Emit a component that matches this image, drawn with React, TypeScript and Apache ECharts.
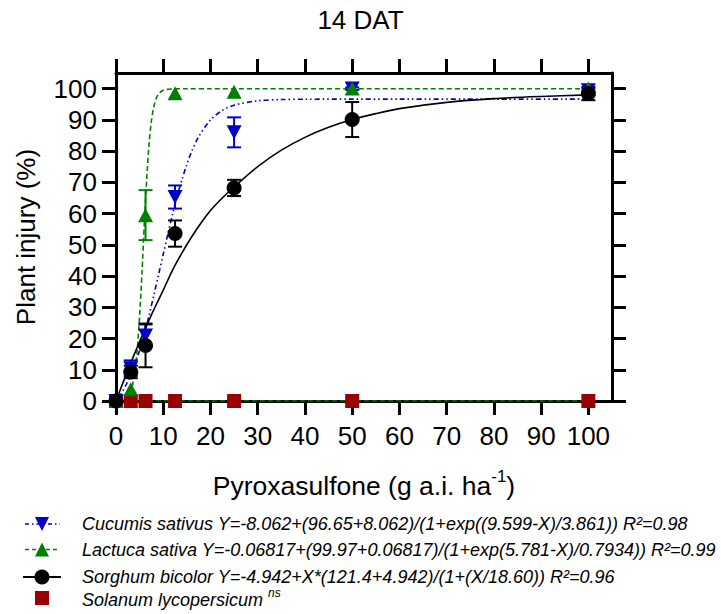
import React, { useEffect, useRef } from "react";
import * as echarts from "echarts";

// Application rates (g a.i. ha-1)
const rates = [0, 3.125, 6.25, 12.5, 25, 50, 100];

// Observed means and standard errors (% injury)
const cucumisMean = [0, 10.5, 21, 65.3, 86, 100, 99.5];
const cucumisErr = [0, 2.5, 3.5, 3.7, 4.8, 0.4, 0.5];
const lactucaMean = [0, 3.8, 59.5, 98.5, 99, 100, 100];
const lactucaErr = [0, 0, 8, 0, 0, 0, 0];
const sorghumMean = [0, 9.3, 17.8, 53.6, 68.2, 90.1, 98.4];
const sorghumErr = [0, 2, 7, 4.2, 2.6, 5.6, 2.1];
const solanumMean = [0, 0, 0, 0, 0, 0, 0];

// Fitted curves
const cucumisFitX = [0, 1, 2, 3, 4, 5, 6, 7, 8, 9, 10, 11, 12, 13, 14, 15, 16, 17.5, 20, 22.5, 25, 30, 35, 40, 50, 60, 80, 100];
const cucumisFitY = [0, 2.1, 4.8, 8, 11.8, 16.3, 21.5, 27.4, 33.8, 40.4, 47, 53.6, 60, 66, 71, 75.8, 79.8, 84.6, 90, 93, 94.7, 96.1, 96.5, 96.6, 96.65, 96.65, 96.65, 96.65];
const lactucaFitX = [0, 1, 2, 3, 3.5, 4, 4.5, 5, 5.5, 6, 6.5, 7, 7.5, 8, 8.5, 9, 10, 11, 12, 15, 20, 30, 50, 100];
const lactucaFitY = [0, 0.2, 0.8, 2.9, 5.2, 9.6, 16.5, 27.2, 41.2, 56.9, 71.2, 82.3, 89.7, 94.2, 96.8, 98.3, 99.5, 99.8, 99.9, 99.97, 99.97, 99.97, 99.97, 99.97];
const sorghumFitX = [0, 1, 2, 3, 4, 5, 6, 7, 8, 9, 10, 12, 14, 16, 18, 20, 22.5, 25, 30, 35, 40, 45, 50, 55, 60, 70, 80, 90, 100];
const sorghumFitY = [0, 4, 7.9, 11.7, 15.4, 19, 22.5, 25.9, 29.2, 32.4, 35.5, 42, 47.5, 52.5, 57, 61, 65, 68.5, 75, 80.3, 84.4, 87.6, 90.1, 92, 93.6, 95.6, 96.8, 97.5, 98];
const solanumFitX = [0, 100];
const solanumFitY = [0, 0];

const xTicks = [0, 10, 20, 30, 40, 50, 60, 70, 80, 90, 100];
const yTicks = [0, 10, 20, 30, 40, 50, 60, 70, 80, 90, 100];

const legendTexts = [
  "Cucumis sativus Y=-8.062+(96.65+8.062)/(1+exp((9.599-X)/3.861)) R²=0.98",
  "Lactuca sativa Y=-0.06817+(99.97+0.06817)/(1+exp(5.781-X)/0.7934)) R²=0.99",
  "Sorghum bicolor Y=-4.942+X*(121.4+4.942)/(1+(X/18.60)) R²=0.96",
  "Solanum lycopersicum ",
];

const BLUE = "#0000c8";
const GREEN = "#008000";
const BLACK = "#000000";
const RED = "#9b0000";
const FONT = "Liberation Sans, Arial, sans-serif";

const zip = (xs: number[], ys: number[]) => xs.map((x, i) => [x, ys[i]]);
const zip3 = (xs: number[], ys: number[], es: number[]) => xs.map((x, i) => [x, ys[i], es[i]]);

function errRender(color: string) {
  return (params: any, api: any) => {
    const x = api.value(0);
    const m = api.value(1);
    const e = api.value(2);
    if (!e) return { type: "group", children: [] };
    const top = api.coord([x, m + e]);
    const bot = api.coord([x, m - e]);
    const hw = 7;
    const style = { stroke: color, lineWidth: 2 };
    return {
      type: "group",
      children: [
        { type: "line", shape: { x1: top[0], y1: top[1], x2: bot[0], y2: bot[1] }, style },
        { type: "line", shape: { x1: top[0] - hw, y1: top[1], x2: top[0] + hw, y2: top[1] }, style },
        { type: "line", shape: { x1: bot[0] - hw, y1: bot[1], x2: bot[0] + hw, y2: bot[1] }, style },
      ],
    };
  };
}

export default function App() {
  const ref = useRef<HTMLDivElement>(null);
  useEffect(() => {
    if (!ref.current) return;
    const chart = echarts.init(ref.current, null, { renderer: "svg" });
    const axisCommon = {
      min: 0,
      max: 105,
      interval: 10,
      splitLine: { show: false },
      axisLine: { show: true, onZero: false, lineStyle: { color: BLACK, width: 3 } },
      axisTick: { show: true, inside: false, length: 14, customValues: xTicks, lineStyle: { color: BLACK, width: 3 } },
    };
    const legendY = [524, 549.5, 577, 598];
    const option: any = {
      animation: false,
      backgroundColor: "#ffffff",
      title: {
        text: "14 DAT",
        left: "center",
        top: 2,
        textStyle: { fontFamily: FONT, fontSize: 26, fontWeight: "normal", color: BLACK },
      },
      grid: { left: 116, top: 73, width: 496, height: 328, containLabel: false },
      xAxis: [
        {
          ...axisCommon,
          type: "value",
          position: "bottom",
          axisLabel: { show: true, customValues: xTicks, margin: 22, fontFamily: FONT, fontSize: 26, color: BLACK },
          name: "{a|Pyroxasulfone (g a.i. ha}{s|-1}{a|)}",
          nameLocation: "middle",
          nameGap: 67,
          nameTextStyle: {
            rich: {
              a: { fontFamily: FONT, fontSize: 26.5, color: BLACK, verticalAlign: "bottom" },
              s: { fontFamily: FONT, fontSize: 17, color: BLACK, verticalAlign: "top", padding: [0, 0, 14, 0] },
            },
          },
        },
        {
          ...axisCommon,
          type: "value",
          position: "top",
          axisLabel: { show: false },
        },
      ],
      yAxis: [
        {
          ...axisCommon,
          type: "value",
          position: "left",
          axisTick: { ...axisCommon.axisTick, customValues: yTicks },
          axisLabel: { show: true, customValues: yTicks, margin: 19, fontFamily: FONT, fontSize: 26, color: BLACK },
          name: "Plant injury (%)",
          nameLocation: "middle",
          nameGap: 77,
          nameTextStyle: { fontFamily: FONT, fontSize: 26, color: BLACK },
        },
        {
          ...axisCommon,
          type: "value",
          position: "right",
          axisTick: { ...axisCommon.axisTick, customValues: yTicks },
          axisLabel: { show: false },
        },
      ],
      series: [
        {
          name: "Solanum fit",
          type: "line",
          data: zip(solanumFitX, solanumFitY),
          showSymbol: false,
          lineStyle: { color: GREEN, width: 1.5, type: [5, 3] },
          z: 2,
        },
        {
          name: "Cucumis fit",
          type: "line",
          data: zip(cucumisFitX, cucumisFitY),
          smooth: 0.3,
          showSymbol: false,
          lineStyle: { color: BLUE, width: 1.6, type: [5, 3, 1.5, 3, 1.5, 3] },
          z: 2,
        },
        {
          name: "Lactuca fit",
          type: "line",
          data: zip(lactucaFitX, lactucaFitY),
          smooth: 0.3,
          showSymbol: false,
          lineStyle: { color: GREEN, width: 1.6, type: [5, 3] },
          z: 2,
        },
        {
          name: "Sorghum fit",
          type: "line",
          data: zip(sorghumFitX, sorghumFitY),
          smooth: 0.3,
          showSymbol: false,
          lineStyle: { color: BLACK, width: 1.6 },
          z: 2,
        },
        {
          type: "custom",
          renderItem: errRender(BLUE),
          data: zip3(rates, cucumisMean, cucumisErr),
          encode: { x: 0, y: 1 },
          z: 3,
        },
        {
          type: "custom",
          renderItem: errRender(GREEN),
          data: zip3(rates, lactucaMean, lactucaErr),
          encode: { x: 0, y: 1 },
          z: 3,
        },
        {
          type: "custom",
          renderItem: errRender(BLACK),
          data: zip3(rates, sorghumMean, sorghumErr),
          encode: { x: 0, y: 1 },
          z: 3,
        },
        {
          name: "Solanum lycopersicum",
          type: "scatter",
          data: zip(rates, solanumMean),
          symbol: "rect",
          symbolSize: 14,
          itemStyle: { color: RED, opacity: 1 },
          z: 4,
        },
        {
          name: "Cucumis sativus",
          type: "scatter",
          data: zip(rates, cucumisMean),
          symbol: "triangle",
          symbolRotate: 180,
          symbolSize: [15, 14],
          itemStyle: { color: BLUE, opacity: 1 },
          z: 4,
        },
        {
          name: "Lactuca sativa",
          type: "scatter",
          data: zip(rates, lactucaMean),
          symbol: "triangle",
          symbolSize: [15, 14],
          itemStyle: { color: GREEN, opacity: 1 },
          z: 4,
        },
        {
          name: "Sorghum bicolor",
          type: "scatter",
          data: zip(rates, sorghumMean),
          symbol: "circle",
          symbolSize: 15,
          itemStyle: { color: BLACK, opacity: 1 },
          z: 4,
        },
      ],
      graphic: [
        // legend symbols
        { type: "line", shape: { x1: 25, y1: legendY[0], x2: 60, y2: legendY[0] }, style: { stroke: BLUE, lineWidth: 1.5, lineDash: [4, 3, 1.5, 3] } },
        { type: "polygon", shape: { points: [[35, legendY[0] - 7], [49, legendY[0] - 7], [42, legendY[0] + 7]] }, style: { fill: BLUE } },
        { type: "line", shape: { x1: 25, y1: legendY[1], x2: 60, y2: legendY[1] }, style: { stroke: GREEN, lineWidth: 1.5, lineDash: [4, 3] } },
        { type: "polygon", shape: { points: [[35, legendY[1] + 7], [49, legendY[1] + 7], [42, legendY[1] - 7]] }, style: { fill: GREEN } },
        { type: "line", shape: { x1: 23, y1: legendY[2], x2: 61, y2: legendY[2] }, style: { stroke: BLACK, lineWidth: 2 } },
        { type: "circle", shape: { cx: 42, cy: legendY[2], r: 7.5 }, style: { fill: BLACK } },
        { type: "rect", shape: { x: 35, y: legendY[3] - 7, width: 14, height: 14 }, style: { fill: RED } },
        // legend texts
        ...legendTexts.slice(0, 3).map((t, i) => ({
          type: "text",
          x: 82,
          y: legendY[i],
          style: { text: t, fontFamily: FONT, fontSize: 18, fontStyle: "italic", fill: BLACK, verticalAlign: "middle", align: "left" },
        })),
        {
          type: "text",
          x: 82,
          y: legendY[3],
          style: {
            text: "{a|" + legendTexts[3] + "}{s|ns}",
            verticalAlign: "middle",
            align: "left",
            rich: {
              a: { fontFamily: FONT, fontSize: 18, fontStyle: "italic", fill: BLACK, verticalAlign: "bottom" },
              s: { fontFamily: FONT, fontSize: 12, fontStyle: "italic", fill: BLACK, verticalAlign: "top", padding: [0, 0, 10, 0] },
            },
          },
        },
      ],
    };
    chart.setOption(option);
    return () => chart.dispose();
  }, []);
  return (
    <div
      ref={ref}
      style={{ position: "fixed", left: 0, top: 0, width: 721, height: 614, background: "#fff" }}
    />
  );
}
